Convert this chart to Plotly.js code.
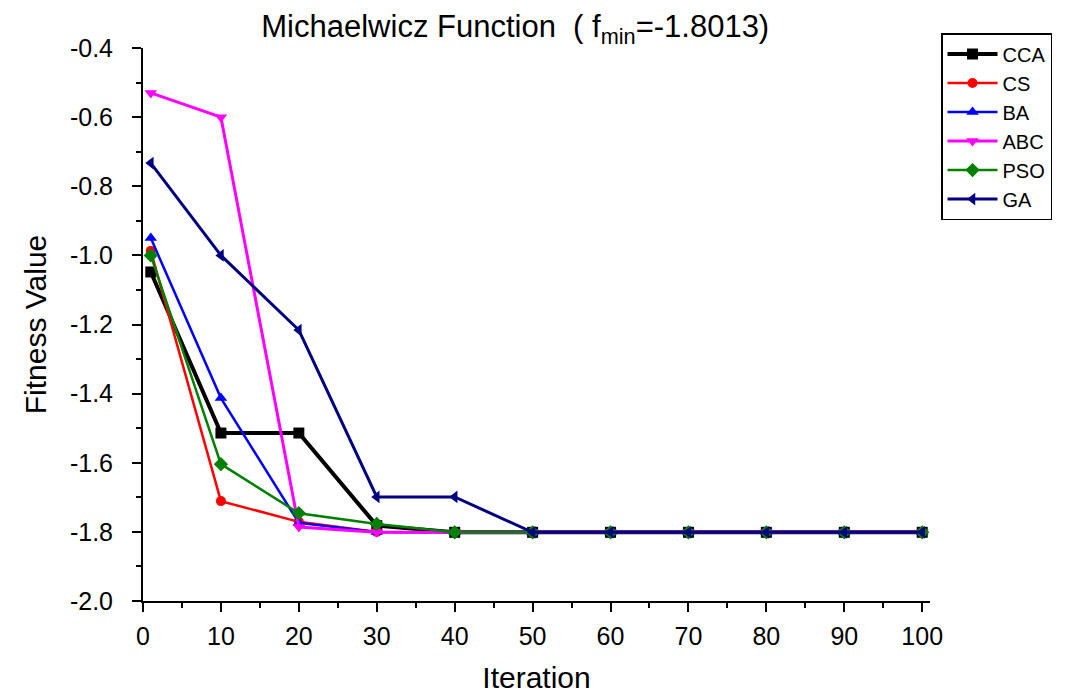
<!DOCTYPE html>
<html>
<head>
<meta charset="utf-8">
<script src="https://cdn.plot.ly/plotly-3.0.1.min.js"></script>
<style>html,body{margin:0;padding:0;background:#fff;}#chart{width:1078px;height:694px;}</style>
</head>
<body>
<div id="chart"></div>
<script>
const iterations = [1, 10, 20, 30, 40, 50, 60, 70, 80, 90, 100];
const CCA = [-1.048, -1.514, -1.514, -1.782, -1.8013, -1.8013, -1.8013, -1.8013, -1.8013, -1.8013, -1.8013];
const CS  = [-0.987, -1.711, -1.771, -1.800, -1.8013, -1.8013, -1.8013, -1.8013, -1.8013, -1.8013, -1.8013];
const BA  = [-0.950, -1.413, -1.774, -1.800, -1.8013, -1.8013, -1.8013, -1.8013, -1.8013, -1.8013, -1.8013];
const ABC = [-0.530, -0.600, -1.786, -1.801, -1.8013, -1.8013, -1.8013, -1.8013, -1.8013, -1.8013, -1.8013];
const PSO = [-1.000, -1.604, -1.746, -1.777, -1.8013, -1.8013, -1.8013, -1.8013, -1.8013, -1.8013, -1.8013];
const GA  = [-0.733, -1.000, -1.216, -1.699, -1.699, -1.8013, -1.8013, -1.8013, -1.8013, -1.8013, -1.8013];

const yTickVals = [-2.0, -1.8, -1.6, -1.4, -1.2, -1.0, -0.8, -0.6, -0.4];
const yTickText = ['-2.0', '-1.8', '-1.6', '-1.4', '-1.2', '-1.0', '-0.8', '-0.6', '-0.4'];
const xTickVals = [0, 10, 20, 30, 40, 50, 60, 70, 80, 90, 100];

const series = [
  {name: 'CCA', y: CCA, color: '#000000', symbol: 'square', width: 4, size: 11},
  {name: 'CS',  y: CS,  color: '#ff0000', symbol: 'circle', width: 2.5, size: 10},
  {name: 'BA',  y: BA,  color: '#0000ff', symbol: 'triangle-up', width: 2.5, size: 11},
  {name: 'ABC', y: ABC, color: '#ff00ff', symbol: 'triangle-down', width: 3, size: 11},
  {name: 'PSO', y: PSO, color: '#008000', symbol: 'diamond', width: 2.5, size: 11},
  {name: 'GA',  y: GA,  color: '#000080', symbol: 'triangle-left', width: 3, size: 11}
];

const traces = series.map(s => ({
  x: iterations, y: s.y, name: s.name, type: 'scatter', mode: 'lines+markers',
  line: {color: s.color, width: s.width},
  marker: {color: s.color, symbol: s.symbol, size: s.size}
}));

const font = 'Liberation Sans, Arial, sans-serif';
const layout = {
  width: 1078, height: 694,
  margin: {l: 143, r: 148, t: 48, b: 93},
  paper_bgcolor: '#fff', plot_bgcolor: '#fff',
  font: {family: font, color: '#000'},
  showlegend: true,
  title: {
    text: 'Michaelwicz Function\u00A0\u00A0( f<sub>min</sub>=-1.8013)',
    font: {family: font, size: 31, color: '#000'},
    x: 0.473, xref: 'paper', xanchor: 'center',
    y: 0.962, yref: 'container', yanchor: 'middle'
  },
  xaxis: {
    range: [0, 101], showgrid: false, zeroline: false,
    showline: true, linecolor: '#000', linewidth: 2,
    tickmode: 'array', tickvals: xTickVals,
    ticks: 'outside', ticklen: 9, tickwidth: 2, tickcolor: '#000',
    tickfont: {family: font, size: 25, color: '#000'},
    ticklabelstandoff: 3,
    minor: {tickmode: 'linear', tick0: 0, dtick: 5, ticks: 'outside', ticklen: 5, tickwidth: 2, tickcolor: '#000'},
    title: {text: 'Iteration', font: {family: font, size: 30, color: '#000'}, standoff: 18}
  },
  yaxis: {
    range: [-2.0, -0.4], showgrid: false, zeroline: false,
    showline: true, linecolor: '#000', linewidth: 2,
    tickmode: 'array', tickvals: yTickVals, ticktext: yTickText,
    ticks: 'outside', ticklen: 9, tickwidth: 2, tickcolor: '#000',
    tickfont: {family: font, size: 25, color: '#000'},
    ticklabelstandoff: 14,
    minor: {tickmode: 'linear', tick0: -2.0, dtick: 0.1, ticks: 'outside', ticklen: 5, tickwidth: 2, tickcolor: '#000'},
    title: {text: 'Fitness Value', font: {family: font, size: 30, color: '#000'}, standoff: 14}
  },
  legend: {
    x: 1.014, y: 1.027, xanchor: 'left', yanchor: 'top',
    bgcolor: '#fff', bordercolor: '#000', borderwidth: 1.5,
    font: {family: font, size: 20, color: '#000'},
    tracegroupgap: 0, itemwidth: 50
  }
};

Plotly.newPlot('chart', traces, layout, {staticPlot: true, displayModeBar: false});
</script>
</body>
</html>
